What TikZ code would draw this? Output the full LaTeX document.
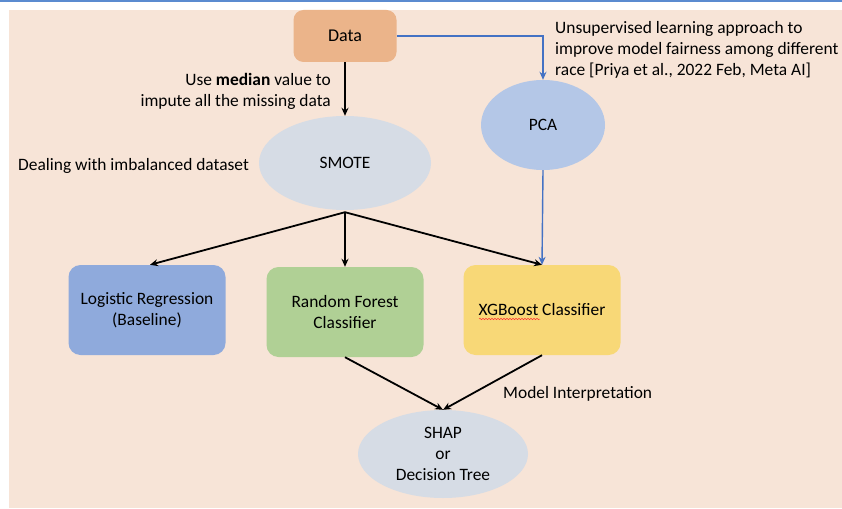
\documentclass[tikz,border=0pt]{standalone}
\usepackage{fontspec}
\setmainfont{Carlito}
\usetikzlibrary{arrows.meta,shapes.geometric,decorations.pathmorphing}
\definecolor{pageline}{HTML}{5B8BD0}
\definecolor{peach}{HTML}{F7E4D7}
\definecolor{datatan}{HTML}{EBB48A}
\definecolor{lrblue}{HTML}{8FAADC}
\definecolor{rfgreen}{HTML}{B0D095}
\definecolor{xgbyellow}{HTML}{F8D877}
\definecolor{ovalgrey}{HTML}{D6DCE5}
\definecolor{pcafill}{HTML}{B4C7E7}
\definecolor{pcablue}{HTML}{4472C4}
\newcommand{\fsz}{\fontsize{17.4}{21}\selectfont}
\tikzset{
  >={Stealth[length=8pt,width=7pt]},
  % boxes and ovals
  box/.style={rounded corners=12pt,minimum width=157pt,minimum height=90pt,
              inner sep=2pt,align=center,font=\fsz},
  oval/.style={ellipse,inner sep=0pt,align=center,font=\fsz},
  note/.style={inner sep=0pt,font=\fsz},
  % arrows
  fl/.style={->,draw=black,line width=1.8pt},
  pl/.style={->,draw=pcablue,line width=1.4pt},
}
\begin{document}
\begin{tikzpicture}[x=1pt,y=-1pt]
  \useasboundingbox (0,0) rectangle (842,508);
  \draw[pageline,line width=2pt] (0,1) -- (842,1);
  \fill[peach] (9,10) rectangle (842,508);

  \node[box,fill=datatan,minimum width=103pt,minimum height=52pt,rounded corners=10pt,
        font=\fontsize{18}{21}\selectfont] (data) at (345,36) {Data};
  \node[oval,fill=ovalgrey,minimum width=172pt,minimum height=94pt] (smote) at (345,163) {SMOTE};
  \node[oval,fill=pcafill,minimum width=124pt,minimum height=90pt] (pca) at (543,125) {PCA};
  \node[box,fill=lrblue] (lr) at (147,310) {Logistic Regression\\(Baseline)};
  \node[box,fill=rfgreen] (rf) at (345,312) {Random Forest\\Classifier};
  \node[box,fill=xgbyellow] (xgb) at (542,310) {XGBoost Classifier};
  \node[oval,fill=ovalgrey,minimum width=170pt,minimum height=88pt] (shap) at (443,454)
       {SHAP\\or\\Decision Tree};

  % annotations
  \node[note,align=right,anchor=east] (median) at (331,91)
       {Use \textbf{median} value to\\impute all the missing data};
  \node[note,anchor=west] (imbal) at (18,166) {Dealing with imbalanced dataset};
  \node[note,align=left,anchor=west] (fair) at (555,50)
       {Unsupervised learning approach to\\improve model fairness among different\\race [Priya et al., 2022 Feb, Meta AI]};
  \node[note,anchor=west] (interp) at (503,394) {Model Interpretation};

  % spell-check squiggle
  \draw[red!80,line width=0.5pt,decorate,decoration={snake,amplitude=0.7pt,segment length=3pt}]
    ([xshift=-63pt,yshift=-9pt]xgb.center) -- ([xshift=-2pt,yshift=-9pt]xgb.center);

  % connectors
  \coordinate (fork) at ([yshift=-2pt]smote.south);
  \draw[fl] (data.south) -- (smote.north);
  \draw[pl] (data.east) -| (pca.north);
  \draw[fl] (fork) -- ([xshift=3pt]lr.north);
  \draw[fl] (fork) -- (rf.north);
  \draw[fl] (fork) -- (xgb.north);
  \draw[pl] (pca.south) -- (xgb.north);
  \draw[fl] (rf.south) -- (shap.north);
  \draw[fl] (xgb.south) -- (shap.north);
\end{tikzpicture}
\end{document}
